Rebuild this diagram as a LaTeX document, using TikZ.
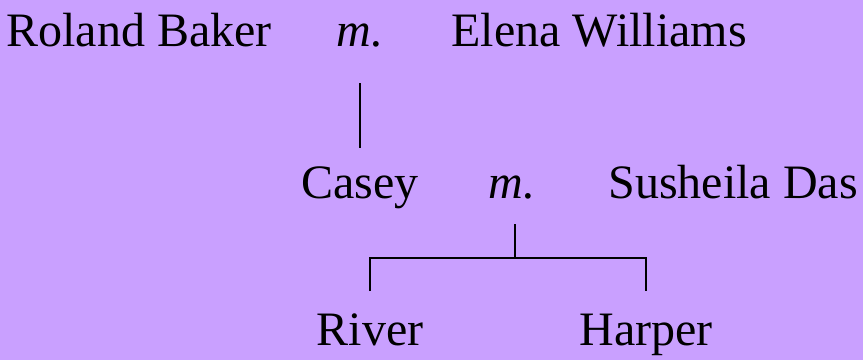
\documentclass[tikz,border=0pt]{standalone}
\usepackage{fontspec}
\setmainfont{Liberation Serif}
\usetikzlibrary{calc}
\definecolor{bgc}{RGB}{201,160,255}
\begin{document}
\begin{tikzpicture}[x=1pt,y=-1pt,
  person/.style={anchor=base,inner sep=0pt,font=\fontsize{48}{58}\selectfont},
  mar/.style={anchor=base,inner sep=0pt,font=\fontsize{48}{58}\selectfont\itshape},
  link/.style={draw=black,line width=1.5pt}]
\fill[bgc] (0,0) rectangle (863,360);
\useasboundingbox (0,0) rectangle (863,360);
\node[person] (roland) at (139,46) {Roland Baker};
\node[mar] (m1) at (360,46) {m.};
\node[person] (elena) at (599,46) {Elena Williams};
\node[person] (casey) at (360,198) {Casey};
\node[mar] (m2) at (512,198) {m.};
\node[person,anchor=base east] (susheila) at (858,198) {Susheila Das};
\node[person] (river) at (370,345) {River};
\node[person] (harper) at (646,345) {Harper};
\draw[link] ($(m1.base)+(0,37)$) -- ($(casey.base)+(0,-50)$);
\coordinate (bar) at ($(m2.base)+(3,60)$);
\draw[link] ($(m2.base)+(3,26)$) -- (bar);
\draw[link] ($(river.base)+(0,-54)$) -- ($(river.base)+(0,-87)$) -- ($(harper.base)+(0,-87)$) -- ($(harper.base)+(0,-54)$);
\end{tikzpicture}
\end{document}
